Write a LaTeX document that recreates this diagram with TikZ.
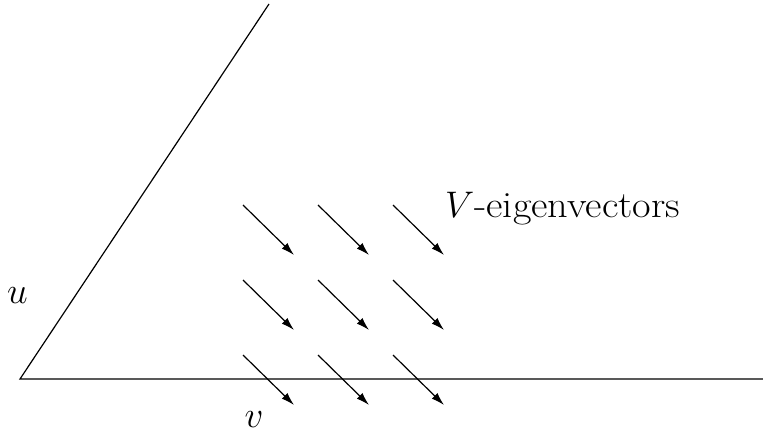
\RequirePackage{fix-cm}
\documentclass[tikz,border=0pt]{standalone}
\usetikzlibrary{arrows.meta}
\begin{document}
\begin{tikzpicture}[x=1pt,y=-1pt,
  axis/.style={line width=1.2pt},
  eig/.style={line width=1.2pt,-{Latex[length=13pt,width=8pt]}},
  lbl/.style={inner sep=0pt,font=\fontsize{37}{40}\selectfont}]
\useasboundingbox (0,0) rectangle (763,441);
\coordinate (O) at (20,379);
\coordinate (H) at (763,379);
\coordinate (T) at (269,4);
\draw[axis] (T) -- (O) -- (H);
\foreach \i/\x in {1/243,2/318,3/393}{
  \foreach \j/\y in {1/205,2/280,3/355}{
    \coordinate (s\i\j) at (\x,\y);
    \coordinate (e\i\j) at (\x+51,\y+50);
    \draw[eig] (s\i\j) -- (e\i\j);
  }
}
\node[lbl] (u) at (17.5,296) {$u$};
\node[lbl] (v) at (254,420) {$v$};
\node[lbl,anchor=base west] (ev) at (445,217) {$V$\scalebox{1.09}[1]{-eigenvectors}};
\end{tikzpicture}
\end{document}
